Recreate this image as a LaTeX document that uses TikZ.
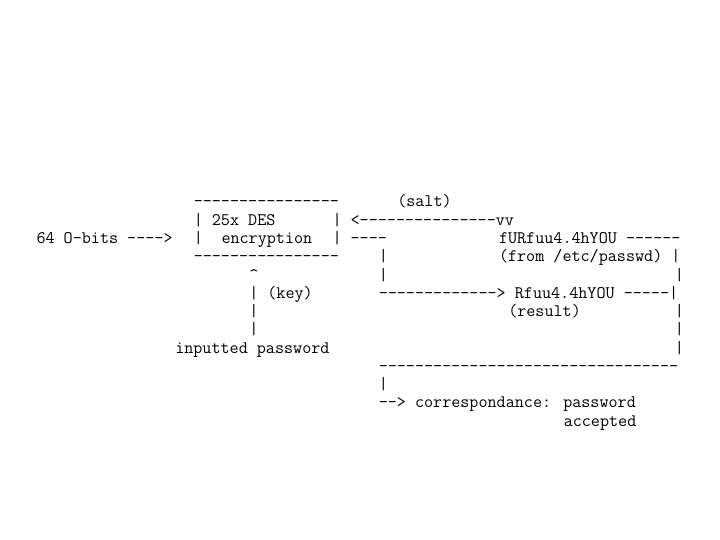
\documentclass[tikz,border=0pt]{standalone}
\usepackage{fontspec}
\tikzset{
  ascii/.style={font=\ttfamily\fontsize{17.62}{18.25}\selectfont, text=black,
    anchor=base west, inner sep=0pt, outer sep=0pt}
}

\begin{document}
\begin{tikzpicture}[x=9.25pt, y=-18.25pt, every node/.style={ascii}]
  \useasboundingbox (0pt,0pt) rectangle (720pt,-540pt);
  % one unit = one character cell, one row = one line
  \begin{scope}[shift={(36.5pt,-207pt)}]
    % row 0
    \node (boxtop) at (17,0) {----------------};
    \node (salt) at (39,0) {(salt)};
    % row 1
    \node (desline) at (17,1) {| 25x DES};
    \node (saltline) at (32,1) {| <---------------vv};
    % row 2
    \node (bits) at (0,2) {64 O-bits ---->};
    \node (boxleft) at (17,2) {|};
    \node (encryption) at (20,2) {encryption};
    \node (boxright) at (32,2) {| ----};
    \node (stored) at (50,2) {fURfuu4.4hYOU ------};
    % row 3
    \node (boxbottom) at (17,3) {----------------};
    \node (downA) at (37,3) {|};
    \node (from) at (50,3) {(from /etc/passwd) |};
    % row 4
    \node (caret) at (23,4) {\textasciicircum};
    \node (downB) at (37,4) {|};
    \node (rightA) at (69,4) {|};
    % row 5
    \node (keyline) at (23,5) {| (key)};
    \node (resultline) at (37,5) {-------------> Rfuu4.4hYOU -----|};
    % row 6
    \node (keyB) at (23,6) {|};
    \node (resultlabel) at (51,6) {(result)};
    \node (rightB) at (69,6) {|};
    % row 7
    \node (keyC) at (23,7) {|};
    \node (rightC) at (69,7) {|};
    % row 8
    \node (inputted) at (15,8) {inputted password};
    \node (rightD) at (69,8) {|};
    % row 9
    \node (bottomline) at (37,9) {---------------------------------};
    % row 10
    \node (downC) at (37,10) {|};
    % row 11
    \node (verdict) at (37,11) {--> correspondance: password};
    % row 12
    \node (accepted) at (57,12) {accepted};
  \end{scope}
\end{tikzpicture}
\end{document}
